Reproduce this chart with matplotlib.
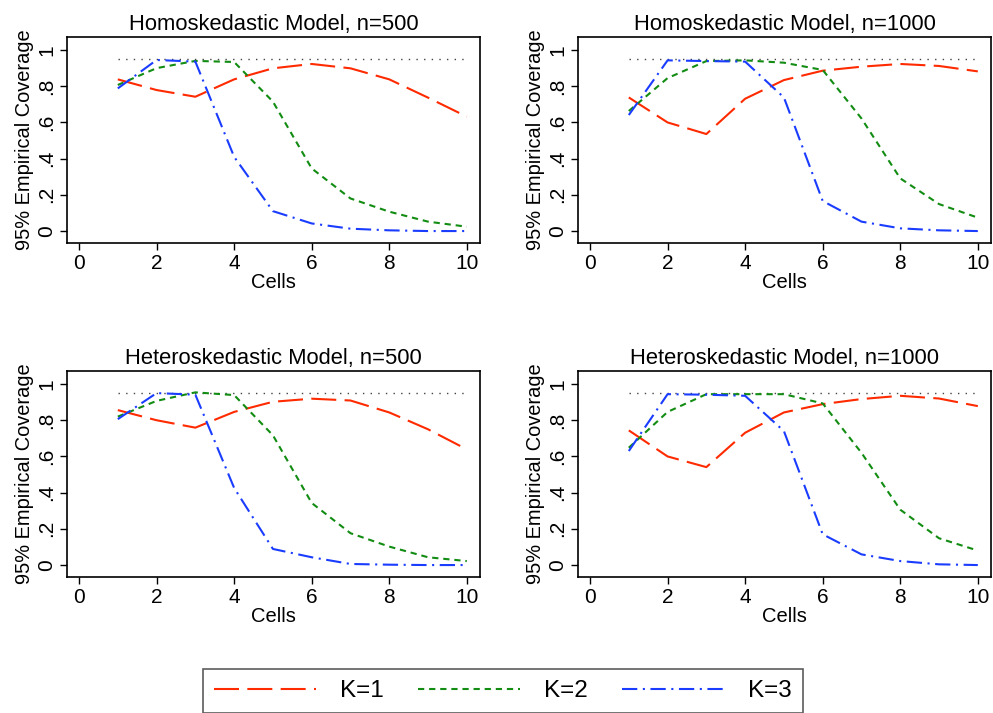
import matplotlib.pyplot as plt

plt.rcParams['font.family'] = ['Liberation Sans', 'DejaVu Sans']
plt.rcParams['lines.scale_dashes'] = False

cells = [1, 2, 3, 4, 5, 6, 7, 8, 9, 10]
nominal = 0.95

titles = ['Homoskedastic Model, n=500', 'Homoskedastic Model, n=1000',
          'Heteroskedastic Model, n=500', 'Heteroskedastic Model, n=1000']

# coverage for K=1, K=2, K=3 in each panel
homo500_k1 = [0.838, 0.779, 0.742, 0.838, 0.899, 0.923, 0.899, 0.838, 0.737, 0.632]
homo500_k2 = [0.807, 0.900, 0.940, 0.934, 0.715, 0.346, 0.180, 0.107, 0.052, 0.024]
homo500_k3 = [0.788, 0.945, 0.936, 0.410, 0.110, 0.042, 0.013, 0.004, 0.000, 0.000]

homo1000_k1 = [0.738, 0.600, 0.536, 0.731, 0.834, 0.886, 0.908, 0.923, 0.912, 0.882]
homo1000_k2 = [0.663, 0.845, 0.939, 0.943, 0.930, 0.890, 0.622, 0.291, 0.149, 0.074]
homo1000_k3 = [0.641, 0.943, 0.939, 0.936, 0.738, 0.166, 0.052, 0.015, 0.004, 0.000]

het500_k1 = [0.856, 0.800, 0.759, 0.846, 0.902, 0.919, 0.909, 0.843, 0.750, 0.639]
het500_k2 = [0.820, 0.907, 0.954, 0.939, 0.717, 0.343, 0.176, 0.102, 0.043, 0.022]
het500_k3 = [0.806, 0.950, 0.941, 0.426, 0.089, 0.043, 0.006, 0.002, 0.000, 0.000]

het1000_k1 = [0.744, 0.600, 0.541, 0.731, 0.843, 0.889, 0.917, 0.935, 0.920, 0.878]
het1000_k2 = [0.648, 0.846, 0.944, 0.944, 0.944, 0.893, 0.620, 0.306, 0.148, 0.080]
het1000_k3 = [0.630, 0.944, 0.941, 0.935, 0.740, 0.170, 0.059, 0.022, 0.004, 0.000]

panels = [(homo500_k1, homo500_k2, homo500_k3),
          (homo1000_k1, homo1000_k2, homo1000_k3),
          (het500_k1, het500_k2, het500_k3),
          (het1000_k1, het1000_k2, het1000_k3)]

yticks = [0, 0.2, 0.4, 0.6, 0.8, 1]
ytick_labels = ['0', '.2', '.4', '.6', '.8', '1']
xticks = [0, 2, 4, 6, 8, 10]

fig = plt.figure(figsize=(9.93, 7.13), dpi=100)
W, H = 993, 713
boxes = [(67, 37), (578, 37), (67, 371), (578, 371)]

styles = [dict(color='#ff2a00', ls=(0, (18, 6)), label='K=1'),
          dict(color='#128c12', ls=(0, (4.5, 3.5)), label='K=2'),
          dict(color='#1a3cff', ls=(0, (11, 4, 1.5, 4)), label='K=3')]

for (px, py), title, series in zip(boxes, titles, panels):
    ax = fig.add_axes([px / W, 1 - (py + 206) / H, 413 / W, 206 / H])
    ax.plot(cells, [nominal] * len(cells), color='#444444', lw=1.0, ls=(0, (1, 4.5)))
    for vals, st in zip(series, styles):
        ax.plot(cells, vals, color=st['color'], ls=st['ls'], lw=1.5, label=st['label'])
    ax.set_xlim(-0.31, 10.34)
    ax.set_ylim(-0.066, 1.072)
    ax.set_xticks(xticks)
    ax.set_yticks(yticks)
    ax.set_yticklabels(ytick_labels, rotation=90, va='center')
    ax.tick_params(labelsize=15, length=5, width=1, direction='out', pad=3)
    ax.set_title(title, fontsize=15.8, pad=5)
    ax.set_xlabel('Cells', fontsize=14.5, labelpad=0)
    ax.set_ylabel('95% Empirical Coverage', fontsize=14.4, labelpad=2)
    for s in ax.spines.values():
        s.set_linewidth(1.2)

handles, labels = ax.get_legend_handles_labels()
leg = fig.legend(handles, labels, loc='upper left', ncol=3, mode='expand',
                 bbox_to_anchor=(203 / W, 1 - 670 / H, 600 / W, 0.001),
                 fontsize=17.5, handlelength=4.2, handletextpad=1.0,
                 frameon=True, fancybox=False, borderaxespad=0, borderpad=0.45)
leg.get_frame().set_edgecolor('#333333')
leg.get_frame().set_linewidth(1.2)

fig.savefig('out.png', dpi=100)
